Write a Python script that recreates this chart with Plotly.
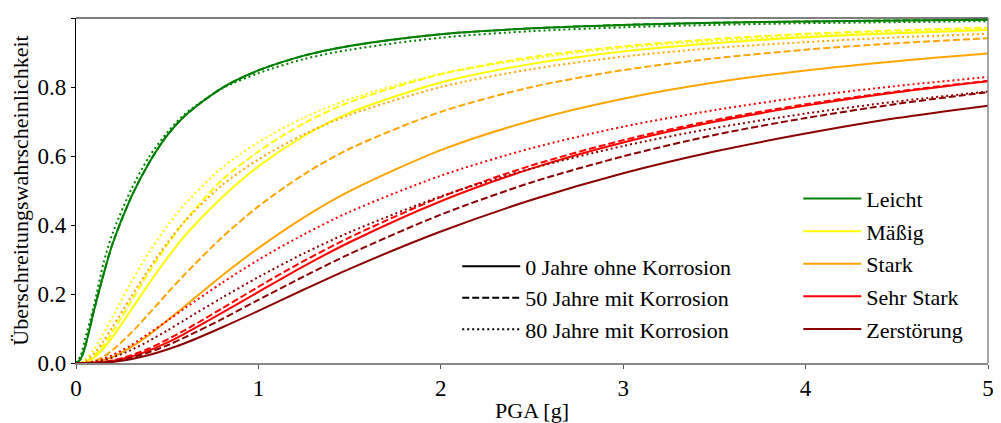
import plotly.graph_objects as go

pga = [0, 0.025, 0.05, 0.1, 0.15, 0.2, 0.3, 0.4, 0.5, 0.6, 0.8, 1.0, 1.25, 1.5, 2.0, 2.5, 3.0, 3.5, 4.0, 4.5, 5.0]

# Leicht
leicht_0 = [0, 0.011, 0.047, 0.155, 0.255, 0.345, 0.478, 0.580, 0.660, 0.718, 0.797, 0.848, 0.891, 0.919, 0.953, 0.970, 0.980, 0.986, 0.990, 0.993, 0.995]
leicht_50 = [0, 0.011, 0.047, 0.155, 0.255, 0.345, 0.478, 0.580, 0.660, 0.718, 0.797, 0.848, 0.891, 0.919, 0.953, 0.970, 0.980, 0.986, 0.990, 0.993, 0.995]
leicht_80 = [0, 0.020, 0.070, 0.170, 0.288, 0.375, 0.500, 0.597, 0.668, 0.723, 0.795, 0.840, 0.881, 0.908, 0.943, 0.962, 0.973, 0.980, 0.985, 0.988, 0.991]
# Mäßig
maessig_0 = [0, 0, 0.002, 0.016, 0.042, 0.075, 0.152, 0.230, 0.304, 0.371, 0.480, 0.570, 0.658, 0.725, 0.813, 0.867, 0.903, 0.927, 0.944, 0.956, 0.965]
maessig_50 = [0, 0, 0.003, 0.021, 0.051, 0.090, 0.177, 0.263, 0.342, 0.413, 0.530, 0.613, 0.695, 0.756, 0.837, 0.887, 0.918, 0.939, 0.954, 0.964, 0.972]
maessig_80 = [0, 0.001, 0.009, 0.041, 0.085, 0.134, 0.232, 0.320, 0.397, 0.462, 0.566, 0.640, 0.711, 0.765, 0.838, 0.882, 0.914, 0.934, 0.948, 0.959, 0.968]
# Stark
stark_0 = [0, 0, 0, 0.002, 0.008, 0.017, 0.045, 0.081, 0.123, 0.166, 0.253, 0.333, 0.422, 0.498, 0.617, 0.703, 0.766, 0.813, 0.848, 0.875, 0.897]
stark_50 = [0, 0, 0.001, 0.006, 0.018, 0.037, 0.086, 0.143, 0.202, 0.259, 0.364, 0.454, 0.547, 0.621, 0.728, 0.800, 0.849, 0.883, 0.908, 0.927, 0.941]
stark_80 = [0, 0, 0.006, 0.028, 0.063, 0.104, 0.190, 0.273, 0.348, 0.413, 0.515, 0.590, 0.663, 0.719, 0.800, 0.852, 0.888, 0.913, 0.930, 0.944, 0.954]
# Sehr Stark
sehrstark_0 = [0, 0, 0, 0.001, 0.002, 0.006, 0.018, 0.036, 0.059, 0.086, 0.145, 0.206, 0.281, 0.350, 0.469, 0.564, 0.639, 0.699, 0.746, 0.785, 0.817]
sehrstark_50 = [0, 0, 0, 0.001, 0.003, 0.007, 0.022, 0.042, 0.068, 0.096, 0.158, 0.221, 0.296, 0.364, 0.481, 0.573, 0.646, 0.704, 0.750, 0.787, 0.818]
sehrstark_80 = [0, 0, 0.001, 0.004, 0.012, 0.023, 0.051, 0.086, 0.122, 0.160, 0.232, 0.299, 0.373, 0.438, 0.543, 0.623, 0.685, 0.733, 0.772, 0.803, 0.829]
# Zerstörung
zerst_0 = [0, 0, 0, 0, 0.001, 0.003, 0.011, 0.023, 0.039, 0.058, 0.103, 0.151, 0.213, 0.273, 0.381, 0.473, 0.550, 0.613, 0.665, 0.710, 0.746]
zerst_50 = [0, 0, 0, 0, 0.002, 0.005, 0.015, 0.031, 0.051, 0.075, 0.127, 0.183, 0.251, 0.316, 0.430, 0.524, 0.599, 0.661, 0.710, 0.751, 0.785]
zerst_80 = [0, 0, 0, 0.003, 0.008, 0.016, 0.037, 0.064, 0.094, 0.126, 0.189, 0.249, 0.318, 0.379, 0.483, 0.564, 0.629, 0.681, 0.723, 0.758, 0.787]

states = ["Leicht", "Mäßig", "Stark", "Sehr Stark", "Zerstörung"]
colors = ["green", "yellow", "orange", "red", "darkred"]
series = [
    (leicht_0, leicht_50, leicht_80),
    (maessig_0, maessig_50, maessig_80),
    (stark_0, stark_50, stark_80),
    (sehrstark_0, sehrstark_50, sehrstark_80),
    (zerst_0, zerst_50, zerst_80),
]
age_labels = ["0 Jahre ohne Korrosion", "50 Jahre mit Korrosion", "80 Jahre mit Korrosion"]
dashes = ["solid", "7px,3px", "2px,3px"]

FONT = "Liberation Serif"
fig = go.Figure()

for name, col, (s0, s50, s80) in zip(states, colors, series):
    for k, ys in ((1, s50), (2, s80), (0, s0)):
        fig.add_trace(go.Scatter(
            x=pga, y=ys, mode="lines",
            line=dict(color=col, width=2, dash=dashes[k], shape="spline", smoothing=0.8),
            name=name, showlegend=(k == 0), legend="legend2", legendgroup=name,
            hoverinfo="skip"))

for lab, d in zip(age_labels, dashes):
    fig.add_trace(go.Scatter(
        x=[None], y=[None], mode="lines",
        line=dict(color="black", width=2, dash=d),
        name=lab, legend="legend", legendgroup=lab, showlegend=True))

# the page body keeps its default 8px margin, so the figure is 8px smaller
fig.update_layout(
    width=993, height=415,
    margin=dict(l=68, r=13, t=10, b=60, autoexpand=False),
    paper_bgcolor="white", plot_bgcolor="white",
    font=dict(family=FONT, size=22, color="black"),
    legend=dict(x=0.418, y=0.341, xanchor="left", yanchor="top",
                bgcolor="rgba(0,0,0,0)", font=dict(family=FONT, size=22, color="black"),
                tracegroupgap=0, itemwidth=58),
    legend2=dict(x=0.792, y=0.537, xanchor="left", yanchor="top",
                 bgcolor="rgba(0,0,0,0)", font=dict(family=FONT, size=22, color="black"),
                 tracegroupgap=1, itemwidth=58),
    xaxis=dict(range=[0, 5], tickvals=[0, 1, 2, 3, 4, 5], ticks="outside", ticklen=4,
               tickcolor="#555555", showgrid=False, zeroline=False, automargin=False,
               showline=True, linecolor="#888888", linewidth=1.5,
               title=dict(text="PGA [g]", standoff=6, font=dict(family=FONT, size=22)),
               tickfont=dict(family=FONT, size=23, color="black")),
    yaxis=dict(range=[0, 1], tickvals=[0, 0.2, 0.4, 0.6, 0.8, 1.0], tickformat=".1f",
               ticks="outside", ticklen=4, tickcolor="black", showgrid=False, zeroline=False,
               automargin=False,
               showline=True, linecolor="black", linewidth=1.2,
               title=dict(text="Überschreitungswahrscheinlichkeit", standoff=9,
                          font=dict(family=FONT, size=22)),
               tickfont=dict(family=FONT, size=23, color="black")),
    shapes=[
        dict(type="line", xref="paper", yref="paper", x0=0, x1=1, y0=1, y1=1,
             line=dict(color="black", width=1.2)),
        dict(type="line", xref="paper", yref="paper", x0=1, x1=1, y0=0, y1=1,
             line=dict(color="#888888", width=1.5)),
    ],
)

fig.write_html("out.html")
